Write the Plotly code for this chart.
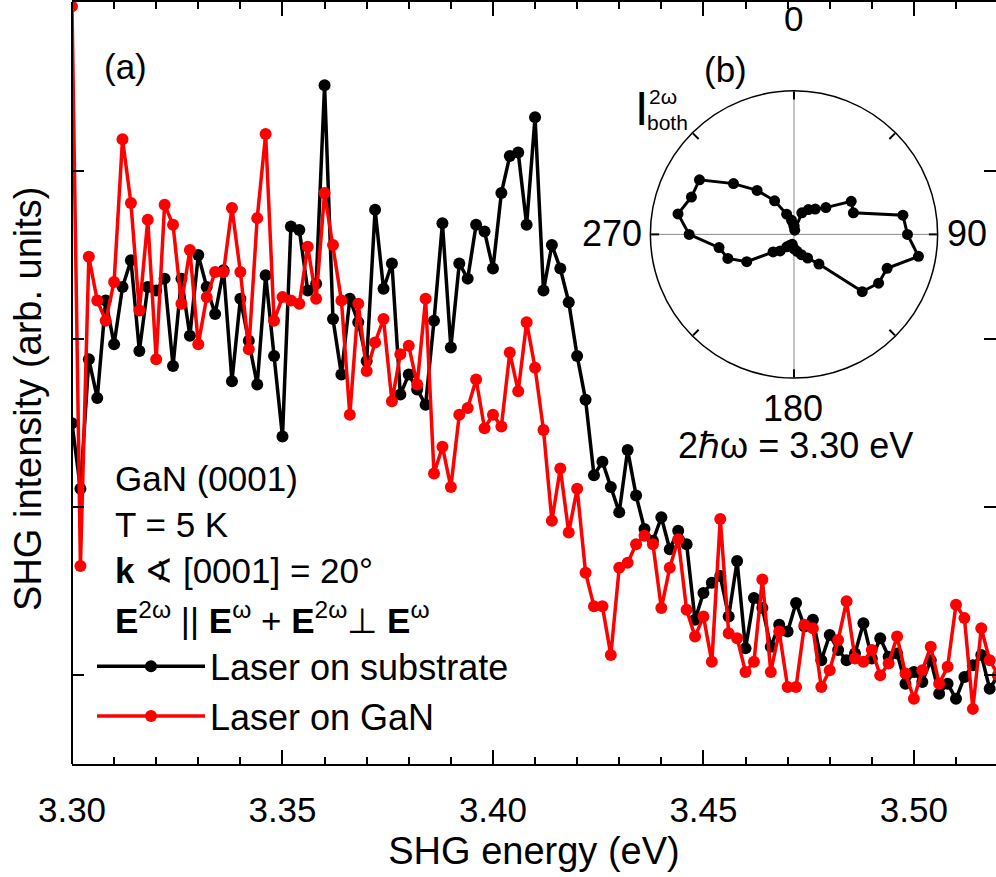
import plotly.graph_objects as go

# SHG photon energy grid (eV)
energy = [
    3.300, 3.302, 3.304, 3.306, 3.308, 3.310, 3.312, 3.314, 3.316, 3.318,
    3.320, 3.322, 3.324, 3.326, 3.328, 3.330, 3.332, 3.334, 3.336, 3.338,
    3.340, 3.342, 3.344, 3.346, 3.348, 3.350, 3.352, 3.354, 3.356, 3.358,
    3.360, 3.362, 3.364, 3.366, 3.368, 3.370, 3.372, 3.374, 3.376, 3.378,
    3.380, 3.382, 3.384, 3.386, 3.388, 3.390, 3.392, 3.394, 3.396, 3.398,
    3.400, 3.402, 3.404, 3.406, 3.408, 3.410, 3.412, 3.414, 3.416, 3.418,
    3.420, 3.422, 3.424, 3.426, 3.428, 3.430, 3.432, 3.434, 3.436, 3.438,
    3.440, 3.442, 3.444, 3.446, 3.448, 3.450, 3.452, 3.454, 3.456, 3.458,
    3.460, 3.462, 3.464, 3.466, 3.468, 3.470, 3.472, 3.474, 3.476, 3.478,
    3.480, 3.482, 3.484, 3.486, 3.488, 3.490, 3.492, 3.494, 3.496, 3.498,
    3.500, 3.502, 3.504, 3.506, 3.508, 3.510, 3.512, 3.514, 3.516, 3.518,
    3.520,
]

# SHG intensity, laser spot on the substrate side (arb. units)
intensity_substrate = [
    2.50, 2.11, 2.88, 2.65, 3.23, 2.97, 3.31, 3.47, 2.93, 3.31,
    3.29, 3.36, 2.84, 3.36, 3.02, 3.50, 3.31, 3.15, 3.41, 2.75,
    3.24, 2.99, 2.73, 3.38, 2.90, 2.42, 3.67, 3.65, 3.29, 3.33,
    4.51, 3.12, 2.79, 3.24, 3.10, 2.87, 3.77, 3.30, 3.45, 2.67,
    2.79, 2.70, 2.61, 3.11, 3.69, 2.95, 3.45, 3.36, 3.68, 3.64,
    3.42, 3.87, 4.09, 4.11, 3.68, 4.32, 3.29, 3.56, 3.42, 3.22,
    2.90, 2.64, 2.19, 2.27, 2.12, 1.97, 2.34, 2.07, 1.87, 1.80,
    1.94, 1.75, 1.86, 1.78, 1.33, 1.49, 1.55, 1.59, 1.35, 1.68,
    1.16, 1.46, 1.40, 1.17, 1.30, 1.26, 1.43, 1.29, 1.33, 1.09,
    1.24, 1.15, 1.09, 1.13, 1.31, 1.10, 1.22, 1.11, 1.13, 0.95,
    1.02, 0.96, 1.09, 0.89, 0.95, 0.86, 0.99, 1.06, 1.12, 0.92,
    1.00,
]

# SHG intensity, laser spot on the GaN layer (arb. units)
intensity_gan = [
    4.98, 1.65, 3.49, 3.23, 3.11, 3.34, 4.19, 3.81, 3.17, 3.71,
    2.88, 3.80, 3.68, 3.21, 3.53, 2.97, 3.25, 3.40, 3.40, 3.78,
    3.40, 2.94, 3.72, 4.22, 3.11, 3.25, 3.23, 3.21, 3.55, 3.24,
    3.87, 3.56, 3.23, 2.55, 3.21, 2.81, 2.98, 3.12, 2.63, 2.91,
    2.96, 2.73, 3.24, 2.20, 2.36, 2.12, 2.55, 2.59, 2.76, 2.47,
    2.55, 2.48, 2.92, 2.69, 3.10, 2.83, 2.46, 1.92, 2.23, 1.85,
    2.11, 1.61, 1.41, 1.41, 1.12, 1.64, 1.67, 1.78, 1.83, 1.78,
    1.40, 1.64, 1.81, 1.39, 1.23, 1.35, 1.08, 1.93, 1.25, 1.22,
    1.02, 1.08, 1.57, 1.02, 1.26, 0.93, 0.93, 1.30, 1.28, 0.93,
    1.03, 1.21, 1.44, 1.10, 1.08, 1.15, 1.00, 1.07, 1.23, 1.01,
    0.86, 1.03, 1.17, 0.95, 1.05, 1.42, 1.34, 0.80, 1.28, 1.09,
    1.00,
]

# Polarization rotation pattern at 2ħω = 3.30 eV (normalized)
angle_deg = [0, 10, 20, 30, 40, 50, 60, 70, 80, 90, 100, 110,
             120, 130, 140, 150, 160, 170, 180, 190, 200, 210, 220, 230,
             240, 250, 260, 270, 280, 290, 300, 310, 320, 330, 340, 350, 360]
i_both = [0.06, 0.03, 0.16, 0.20, 0.23, 0.29, 0.46, 0.44, 0.77, 0.79, 0.88, 0.69,
          0.68, 0.62, 0.27, 0.19, 0.15, 0.12, 0.10, 0.07, 0.08, 0.10, 0.15, 0.19,
          0.38, 0.49, 0.53, 0.73, 0.82, 0.76, 0.76, 0.55, 0.40, 0.27, 0.15, 0.10, 0.06]

y_tick_vals = [1, 2, 3, 4]
x_tick_vals = [3.30, 3.35, 3.40, 3.45, 3.50]
x_tick_text = ["3.30", "3.35", "3.40", "3.45", "3.50"]

FONT = "Liberation Sans, Arial, sans-serif"
W, H = 996, 877
ML, MR, MT, MB = 72, 0, 0, 113
PW, PH = W - ML - MR, H - MT - MB


def fx(px):
    return (px - ML) / PW


def fy(py):
    return (MT + PH - py) / PH


fig = go.Figure()

fig.add_trace(go.Scatter(
    x=energy, y=intensity_substrate, mode="lines+markers",
    name="Laser on substrate",
    line=dict(color="#000000", width=3.5),
    marker=dict(color="#000000", size=12),
))
fig.add_trace(go.Scatter(
    x=energy, y=intensity_gan, mode="lines+markers",
    name="Laser on GaN",
    line=dict(color="#ff0000", width=3.5),
    marker=dict(color="#ff0000", size=12),
))

# crosshair of the polar inset
fig.add_trace(go.Scatterpolar(
    r=[1, 0, 1], theta=[0, 0, 180], mode="lines",
    line=dict(color="#8a8a8a", width=1), showlegend=False, hoverinfo="skip",
))
fig.add_trace(go.Scatterpolar(
    r=[1, 0, 1], theta=[90, 90, 270], mode="lines",
    line=dict(color="#8a8a8a", width=1), showlegend=False, hoverinfo="skip",
))
fig.add_trace(go.Scatterpolar(
    r=i_both, theta=angle_deg, mode="lines+markers",
    line=dict(color="#000000", width=3),
    marker=dict(color="#000000", size=11),
    showlegend=False,
))

fig.update_layout(
    width=W, height=H,
    margin=dict(l=ML, r=MR, t=MT, b=MB),
    paper_bgcolor="white", plot_bgcolor="white",
    font=dict(family=FONT, size=35, color="black"),
    showlegend=True,
    legend=dict(
        x=fx(92), y=fy(636), xanchor="left", yanchor="top",
        bgcolor="rgba(0,0,0,0)", font=dict(size=36),
        itemwidth=108, tracegroupgap=0,
    ),
    xaxis=dict(
        range=[3.30, 3.5195], showgrid=False, zeroline=False,
        showline=True, linecolor="black", linewidth=2, mirror="allticks",
        ticks="inside", ticklen=14, tickwidth=1.5, tickcolor="black",
        tickvals=x_tick_vals, ticktext=x_tick_text,
        tickfont=dict(size=35), ticklabelstandoff=14,
        minor=dict(dtick=0.01, ticks="inside", ticklen=7, tickwidth=1.5, tickcolor="black"),
        title=dict(text="SHG energy (eV)", font=dict(size=38), standoff=9),
    ),
    yaxis=dict(
        range=[0.472, 5.006], showgrid=False, zeroline=False,
        showline=False, mirror="ticks",
        ticks="inside", ticklen=12, tickwidth=1.5, tickcolor="black",
        tickvals=y_tick_vals, showticklabels=False,
    ),
    polar=dict(
        domain=dict(x=[fx(650), fx(938)], y=[fy(377), fy(89)]),
        bgcolor="white",
        radialaxis=dict(visible=False, range=[0, 1]),
        angularaxis=dict(
            rotation=90, direction="clockwise",
            tickvals=[0, 45, 90, 135, 180, 225, 270, 315],
            showticklabels=False, ticks="inside", ticklen=8, tickwidth=1.5,
            tickcolor="black", showgrid=False,
            showline=True, linecolor="black", linewidth=1.5,
        ),
    ),
    shapes=[dict(type="line", xref="paper", yref="paper", x0=0, x1=0, y0=0, y1=1,
                 line=dict(color="black", width=2))],
)

# y-axis title, rotated
fig.add_annotation(
    text="SHG intensity (arb. units)", x=fx(28), y=fy(398), xref="paper", yref="paper",
    xanchor="center", yanchor="middle", textangle=-90, showarrow=False,
    font=dict(family=FONT, size=38, color="black"),
)

notes = [
    ("(a)", 125, 65, "center", 35),
    ("GaN (0001)", 113, 478, "left", 35),
    ("T = 5 K", 113, 524, "left", 35),
    ("<b>k</b> ∢ [0001] = 20°", 113, 570, "left", 35),
    ("<b>E</b><sup>2ω</sup> || <b>E</b><sup>ω</sup> + <b>E</b><sup>2ω</sup>⊥ <b>E</b><sup>ω</sup>",
     113, 618, "left", 35),
    ("(b)", 725, 68, "center", 35),
    ("0", 793, 17, "center", 35),
    ("90", 967, 232, "center", 36),
    ("180", 793, 408, "center", 36),
    ("270", 612, 232, "center", 36),
    ("2ℏω = 3.30 eV", 795, 445, "center", 36),
    ("I", 641, 107, "center", 48),
    ("2ω", 647, 95, "left", 21),
    ("both", 645, 121, "left", 21),
]
for text, px, py, anchor, size in notes:
    fig.add_annotation(
        text=text, x=fx(px), y=fy(py), xref="paper", yref="paper",
        xanchor=anchor, yanchor="middle", showarrow=False,
        font=dict(family=FONT, size=size, color="black"),
    )

fig.write_html("out.html")
